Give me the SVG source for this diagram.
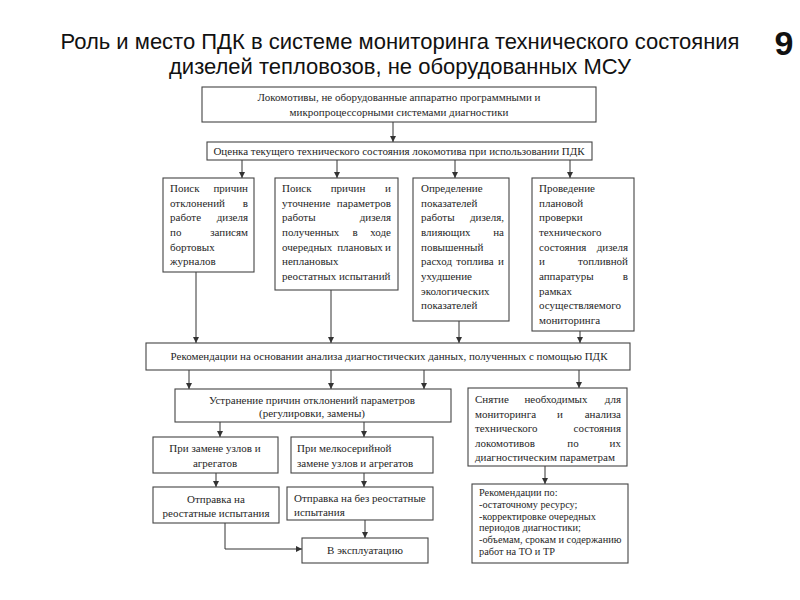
<svg xmlns="http://www.w3.org/2000/svg" width="800" height="600" viewBox="0 0 800 600">
<style>
.box{fill:#fff;stroke:#444;stroke-width:1.1}
.t{font-family:"Liberation Serif","Times New Roman",serif;font-size:11px;fill:#262626}
.s{font-size:10.3px}
.c{text-anchor:middle}
.r{text-anchor:end}
.title{font-family:"Liberation Sans",Arial,sans-serif;font-size:22px;fill:#111;text-anchor:middle}
.num{font-family:"Liberation Sans",Arial,sans-serif;font-size:34px;font-weight:bold;fill:#111;text-anchor:middle}
.ln{fill:none;stroke:#333;stroke-width:1}
</style>
<defs>
<marker id="ah" markerUnits="userSpaceOnUse" markerWidth="6" markerHeight="6" refX="6" refY="3" orient="auto">
<path d="M0,0 L6,3 L0,6 z" fill="#333"/>
</marker>
</defs>
<rect width="800" height="600" fill="#fff"/>
<g id="title">
<text class="title" x="400" y="49">Роль и место ПДК в системе мониторинга технического состояния</text>
<text class="title" x="400" y="74">дизелей тепловозов, не оборудованных МСУ</text>
<text class="num" x="784" y="55">9</text>
</g>
<g id="connectors">
<path class="ln" marker-end="url(#ah)" d="M393,122 V142"/>
<path class="ln" marker-end="url(#ah)" d="M242,160 V178"/>
<path class="ln" marker-end="url(#ah)" d="M337,160 V178"/>
<path class="ln" marker-end="url(#ah)" d="M455,160 V178"/>
<path class="ln" marker-end="url(#ah)" d="M570,160 V178"/>
<path class="ln" marker-end="url(#ah)" d="M196,272 V343"/>
<path class="ln" marker-end="url(#ah)" d="M331,290 V343"/>
<path class="ln" marker-end="url(#ah)" d="M459,321 V343"/>
<path class="ln" marker-end="url(#ah)" d="M580,331 V343"/>
<path class="ln" marker-end="url(#ah)" d="M189,370 V389"/>
<path class="ln" marker-end="url(#ah)" d="M331,370 V389"/>
<path class="ln" marker-end="url(#ah)" d="M424,370 V389"/>
<path class="ln" marker-end="url(#ah)" d="M579,370 V388"/>
<path class="ln" marker-end="url(#ah)" d="M220,422 V437"/>
<path class="ln" marker-end="url(#ah)" d="M364,422 V437"/>
<path class="ln" marker-end="url(#ah)" d="M216,473 V487"/>
<path class="ln" marker-end="url(#ah)" d="M364,473 V487"/>
<path class="ln" marker-end="url(#ah)" d="M365,520 V538"/>
<path class="ln" marker-end="url(#ah)" d="M225,523 V549 H302"/>
<path class="ln" marker-end="url(#ah)" d="M545,466 V484"/>
</g>
<g id="n-locomotives">
<rect class="box" x="202" y="87" width="394" height="35"/>
<text class="t c" x="399" y="101">Локомотивы, не оборудованные аппаратно программными и</text>
<text class="t c" x="399" y="116">микропроцессорными системами диагностики</text>
</g>
<g id="n-assessment">
<rect class="box" x="207" y="142" width="385" height="18"/>
<text class="t c" x="399" y="155">Оценка текущего технического состояния локомотива при использовании ПДК</text>
</g>
<g id="n-search-journals">
<rect class="box" x="163" y="178" width="91" height="94"/>
<text class="t" x="170" y="192">Поиск</text><text class="t r" x="248" y="192">причин</text>
<text class="t" x="170" y="207">отклонений</text><text class="t r" x="248" y="207">в</text>
<text class="t" x="170" y="221">работе</text><text class="t r" x="248" y="221">дизеля</text>
<text class="t" x="170" y="236">по</text><text class="t r" x="248" y="236">записям</text>
<text class="t" x="170" y="251">бортовых</text>
<text class="t" x="170" y="265">журналов</text>
</g>
<g id="n-search-params">
<rect class="box" x="275" y="178" width="123" height="112"/>
<text class="t" x="282" y="192">Поиск</text><text class="t c" x="348" y="192">причин</text><text class="t r" x="391" y="192">и</text>
<text class="t" x="282" y="207">уточнение</text><text class="t r" x="391" y="207">параметров</text>
<text class="t" x="282" y="221">работы</text><text class="t r" x="391" y="221">дизеля</text>
<text class="t" x="282" y="236">полученных</text><text class="t c" x="355" y="236">в</text><text class="t r" x="391" y="236">ходе</text>
<text class="t" x="282" y="251">очередных</text><text class="t c" x="360" y="251">плановых</text><text class="t r" x="391" y="251">и</text>
<text class="t" x="282" y="265">неплановых</text>
<text class="t" x="282" y="280">реостатных испытаний</text>
</g>
<g id="n-fuel">
<rect class="box" x="413" y="178" width="96" height="143"/>
<text class="t" x="421" y="192">Определение</text>
<text class="t" x="421" y="207">показателей</text>
<text class="t" x="421" y="221">работы</text><text class="t r" x="504" y="221">дизеля,</text>
<text class="t" x="421" y="236">влияющих</text><text class="t r" x="504" y="236">на</text>
<text class="t" x="421" y="251">повышенный</text>
<text class="t" x="421" y="265">расход</text><text class="t c" x="475" y="265">топлива</text><text class="t r" x="504" y="265">и</text>
<text class="t" x="421" y="280">ухудшение</text>
<text class="t" x="421" y="295">экологических</text>
<text class="t" x="421" y="309">показателей</text>
</g>
<g id="n-planned-check">
<rect class="box" x="532" y="178" width="102" height="153"/>
<text class="t" x="539" y="192">Проведение</text>
<text class="t" x="539" y="207">плановой</text>
<text class="t" x="539" y="221">проверки</text>
<text class="t" x="539" y="236">технического</text>
<text class="t" x="539" y="251">состояния</text><text class="t r" x="628" y="251">дизеля</text>
<text class="t" x="539" y="265">и</text><text class="t r" x="628" y="265">топливной</text>
<text class="t" x="539" y="280">аппаратуры</text><text class="t r" x="628" y="280">в</text>
<text class="t" x="539" y="295">рамках</text>
<text class="t" x="539" y="309">осуществляемого</text>
<text class="t" x="539" y="324">мониторинга</text>
</g>
<g id="n-recommendations">
<rect class="box" x="146" y="343" width="484" height="27"/>
<text class="t c" x="389" y="360">Рекомендации на основании анализа диагностических данных, полученных с помощью ПДК</text>
</g>
<g id="n-elimination">
<rect class="box" x="175" y="389" width="276" height="33"/>
<text class="t c" x="312" y="404">Устранение причин отклонений параметров</text>
<text class="t c" x="312" y="417">(регулировки, замены)</text>
</g>
<g id="n-data-capture">
<rect class="box" x="468" y="388" width="159" height="78"/>
<text class="t" x="475" y="403">Снятие</text><text class="t c" x="556" y="403">необходимых</text><text class="t r" x="621" y="403">для</text>
<text class="t" x="475" y="418">мониторинга</text><text class="t c" x="560" y="418">и</text><text class="t r" x="621" y="418">анализа</text>
<text class="t" x="475" y="432">технического</text><text class="t r" x="621" y="432">состояния</text>
<text class="t" x="475" y="447">локомотивов</text><text class="t c" x="573" y="447">по</text><text class="t r" x="621" y="447">их</text>
<text class="t" x="475" y="461">диагностическим параметрам</text>
</g>
<g id="n-replace-units">
<rect class="box" x="153" y="437" width="125" height="36"/>
<text class="t c" x="215" y="452">При замене узлов и</text>
<text class="t c" x="215" y="467">агрегатов</text>
</g>
<g id="n-small-replace">
<rect class="box" x="291" y="437" width="142" height="36"/>
<text class="t" x="297" y="452">При мелкосерийной</text>
<text class="t" x="297" y="467">замене узлов и агрегатов</text>
</g>
<g id="n-send-rheostat">
<rect class="box" x="153" y="487" width="126" height="36"/>
<text class="t c" x="216" y="503">Отправка на</text>
<text class="t c" x="216" y="517">реостатные испытания</text>
</g>
<g id="n-send-no-rheostat">
<rect class="box" x="287" y="487" width="146" height="33"/>
<text class="t" x="294" y="502">Отправка на без реостатные</text>
<text class="t" x="294" y="516">испытания</text>
</g>
<g id="n-operation">
<rect class="box" x="302" y="538" width="126" height="25"/>
<text class="t c" x="365" y="554">В эксплуатацию</text>
</g>
<g id="n-rec-list">
<rect class="box" x="472" y="484" width="156" height="79"/>
<text class="t s" x="479" y="496">Рекомендации по:</text>
<text class="t s" x="479" y="508">-остаточному ресурсу;</text>
<text class="t s" x="479" y="519.5">-корректировке очередных</text>
<text class="t s" x="479" y="530.5">периодов диагностики;</text>
<text class="t s" x="479" y="543">-объемам, срокам и содержанию</text>
<text class="t s" x="479" y="554.5">работ на ТО и ТР</text>
</g>
</svg>
